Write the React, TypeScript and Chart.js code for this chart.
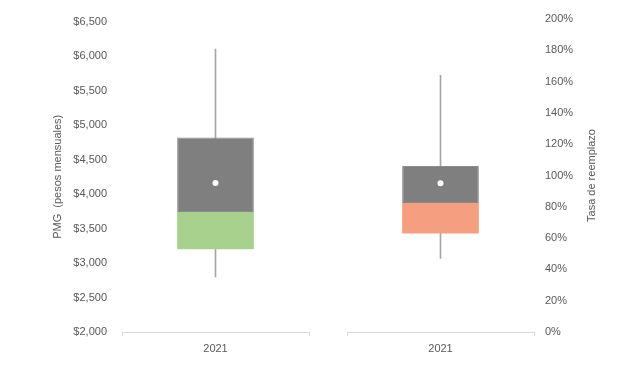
import React, { useEffect, useRef } from "react";
import { Chart, registerables } from "chart.js";

Chart.register(...registerables);

// ---- Data ----
const categories = ["2021"];

// PMG (pesos mensuales) box plot, left axis
const pmgMin = [2800];
const pmgQ1 = [3200];
const pmgMedian = [3740];
const pmgQ3 = [4820];
const pmgMax = [6100];
const pmgMean = [4160];

// Tasa de reemplazo (%) box plot, right axis
const tasaMin = [47];
const tasaQ1 = [63];
const tasaMedian = [82.5];
const tasaQ3 = [106];
const tasaMax = [164];
const tasaMean = [95];

const pmgTicks = { min: 2000, max: 6500, step: 500 };
const tasaTicks = { min: 0, max: 200, step: 20 };

const FONT = "'Liberation Sans', Arial, Helvetica, sans-serif";
const TEXT = "#595959";
const AXIS = "#d9d9d9";

function boxDatasets(
  min: number[], q1: number[], med: number[], q3: number[], max: number[], mean: number[], lowColor: string
) {
  return [
    {
      type: "line" as const,
      label: "Media",
      data: mean,
      showLine: false,
      pointRadius: 3,
      pointHoverRadius: 3,
      pointBackgroundColor: "#ffffff",
      pointBorderWidth: 0,
      order: 0,
    },
    {
      type: "bar" as const,
      label: "Q3",
      data: categories.map((_, i) => [med[i], q3[i]]),
      backgroundColor: "#7f7f7f",
      borderColor: "#8a8a8a",
      borderWidth: 1,
      borderSkipped: false,
      grouped: false,
      barPercentage: 0.41,
      categoryPercentage: 1,
      order: 1,
    },
    {
      type: "bar" as const,
      label: "Q1",
      data: categories.map((_, i) => [q1[i], med[i]]),
      backgroundColor: lowColor,
      borderWidth: 0,
      grouped: false,
      barPercentage: 0.41,
      categoryPercentage: 1,
      order: 2,
    },
    {
      type: "bar" as const,
      label: "Bigotes",
      data: categories.map((_, i) => [min[i], max[i]]),
      backgroundColor: "#a6a6a6",
      barThickness: 1,
      grouped: false,
      order: 3,
    },
  ];
}

function xScale() {
  return {
    offset: true,
    grid: {
      display: true,
      offset: true,
      drawOnChartArea: false,
      drawTicks: true,
      tickLength: 4,
      color: AXIS,
    },
    border: { display: true, color: AXIS },
    ticks: { color: TEXT, font: { size: 11, family: FONT }, padding: 6 },
    afterFit: (s: any) => {
      s.height = 43;
    },
  };
}

const rightTitlePlugin = {
  id: "rightTitle",
  afterDraw(chart: any) {
    const s = chart.scales.y;
    const ctx = chart.ctx;
    ctx.save();
    ctx.translate(s.right - 48, (s.top + s.bottom) / 2);
    ctx.rotate(-Math.PI / 2);
    ctx.textAlign = "center";
    ctx.textBaseline = "middle";
    ctx.fillStyle = TEXT;
    ctx.font = `11px ${FONT}`;
    ctx.fillText("Tasa de reemplazo", 0, 0);
    ctx.restore();
  },
};

export default function App() {
  const leftRef = useRef<HTMLCanvasElement>(null);
  const rightRef = useRef<HTMLCanvasElement>(null);

  useEffect(() => {
    const left = new Chart(leftRef.current as HTMLCanvasElement, {
      type: "bar",
      data: {
        labels: categories,
        datasets: boxDatasets(pmgMin, pmgQ1, pmgMedian, pmgQ3, pmgMax, pmgMean, "#a9d18e") as any,
      },
      options: {
        responsive: false,
        animation: false,
        events: [],
        layout: { padding: { top: 19, right: 11, left: 0, bottom: 0 } },
        plugins: { legend: { display: false }, tooltip: { enabled: false } },
        scales: {
          x: xScale() as any,
          y: {
            position: "left",
            min: pmgTicks.min,
            max: pmgTicks.max,
            grid: { display: false, drawTicks: false },
            border: { display: false },
            ticks: {
              stepSize: pmgTicks.step,
              color: TEXT,
              font: { size: 11, family: FONT },
              padding: 15,
              callback: (v: any) => "$" + Number(v).toLocaleString("en-US"),
            },
            title: {
              display: true,
              text: "PMG  (pesos mensuales)",
              color: TEXT,
              font: { size: 11, family: FONT },
              padding: { top: 51, bottom: 0 },
            },
            afterFit: (s: any) => {
              s.width = 122;
            },
          } as any,
        },
      },
    });

    const right = new Chart(rightRef.current as HTMLCanvasElement, {
      type: "bar",
      data: {
        labels: categories,
        datasets: boxDatasets(tasaMin, tasaQ1, tasaMedian, tasaQ3, tasaMax, tasaMean, "#f59e80") as any,
      },
      options: {
        responsive: false,
        animation: false,
        events: [],
        layout: { padding: { top: 19, right: 0, left: 27, bottom: 0 } },
        plugins: { legend: { display: false }, tooltip: { enabled: false } },
        scales: {
          x: xScale() as any,
          y: {
            position: "right",
            min: tasaTicks.min,
            max: tasaTicks.max,
            grid: { display: false, drawTicks: false },
            border: { display: false },
            ticks: {
              stepSize: tasaTicks.step,
              color: TEXT,
              font: { size: 11, family: FONT },
              padding: 11,
              callback: (v: any) => `${v}%`,
            },
            afterFit: (s: any) => {
              s.width = 106;
            },
          } as any,
        },
      },
      plugins: [rightTitlePlugin],
    });

    return () => {
      left.destroy();
      right.destroy();
    };
  }, []);

  return (
    <div
      style={{
        position: "fixed",
        left: 0,
        top: 0,
        width: 640,
        height: 375,
        display: "flex",
        background: "#ffffff",
      }}
    >
      <canvas ref={leftRef} width={320} height={375} style={{ display: "block" }} />
      <canvas ref={rightRef} width={320} height={375} style={{ display: "block" }} />
    </div>
  );
}
